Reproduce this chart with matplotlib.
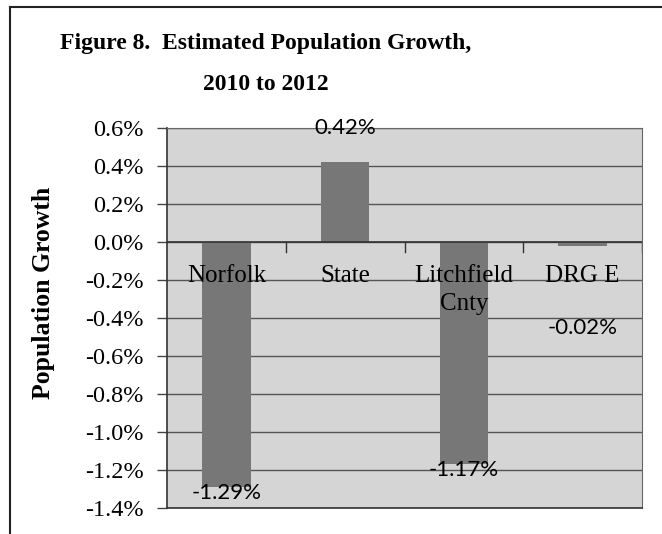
import matplotlib.pyplot as plt
from matplotlib.ticker import FuncFormatter, MultipleLocator
from matplotlib.lines import Line2D

categories = ['Norfolk', 'State', 'Litchfield\nCnty', 'DRG E']
growth = [-1.29, 0.42, -1.17, -0.02]
value_labels = ['-1.29%', '0.42%', '-1.17%', '-0.02%']

fig = plt.figure(figsize=(6.62, 5.34), dpi=100)
ax = fig.add_axes([167 / 662, 1 - 508 / 534, (642 - 167) / 662, (508 - 128) / 534])

ax.set_facecolor('#d5d5d5')
x = range(len(categories))
ax.bar(x, growth, width=0.41, color='#777777', zorder=3)

ax.set_xlim(-0.5, len(categories) - 0.5)
ax.set_ylim(-1.4, 0.6)
ax.yaxis.set_major_locator(MultipleLocator(0.2))
ax.yaxis.set_major_formatter(FuncFormatter(lambda v, p: f'{v:.1f}%'))
ax.grid(axis='y', color='#555555', linewidth=1.0, zorder=1)
for lab in ax.get_yticklabels():
    lab.set_family('Liberation Serif')
    lab.set_fontsize(17.5)
ax.tick_params(axis='y', length=7, width=1, color='#444444', pad=10)
ax.set_xticks([])
for s in ['top', 'right']:
    ax.spines[s].set_color('#666666')
for s in ['left', 'bottom']:
    ax.spines[s].set_color('#333333')
    ax.spines[s].set_linewidth(1.2)

# category axis at zero with tick marks between categories
ax.axhline(0, color='#333333', linewidth=1.2, zorder=4)
for b in [0.5, 1.5, 2.5, 3.5]:
    ax.plot([b, b], [0, -0.05], color='#333333', linewidth=1, zorder=4)

for i, c in enumerate(categories):
    ax.text(i, -0.12, c, ha='center', va='top', family='Liberation Serif',
            fontsize=18, linespacing=1.35, zorder=5)

# data labels
for i, (v, t) in enumerate(zip(growth, value_labels)):
    if v > 0:
        ty = v + 0.18
    elif v < -0.5:
        ty = v - 0.03
    else:
        ty = -0.45
    ax.text(i, ty, t, ha='center', va='center', family='Lato', fontsize=16, zorder=5)

ax.set_ylabel('Population Growth', family='Liberation Serif', fontweight='bold',
              fontsize=18.5)
ax.yaxis.set_label_coords(-0.235, 0.565)

fig.text(266 / 662, 1 - 64 / 534, 'Figure 8.  Estimated Population Growth,\n2010 to 2012',
         ha='center', va='center', family='Liberation Serif', fontweight='bold',
         fontsize=17, linespacing=2.25)

# scanned frame lines
fig.add_artist(Line2D([10 / 662, 10 / 662], [0, 1 - 7 / 534], color='#222222', linewidth=1.5))
fig.add_artist(Line2D([10 / 662, 1], [1 - 7 / 534, 1 - 7 / 534], color='#222222', linewidth=1.5))

fig.savefig('out.png', dpi=100)
